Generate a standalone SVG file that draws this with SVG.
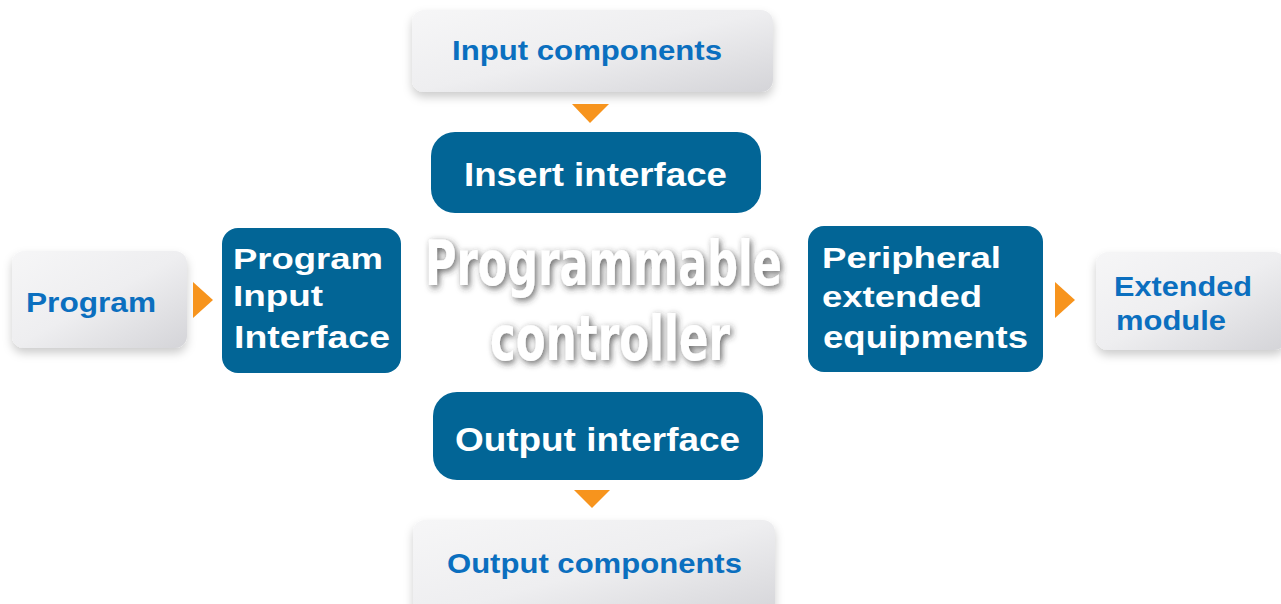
<svg xmlns="http://www.w3.org/2000/svg" width="1281" height="604" viewBox="0 0 1281 604">
  <defs>
    <linearGradient id="grayGrad" x1="0" y1="0" x2="1" y2="1">
      <stop offset="0" stop-color="#f6f6f7"/>
      <stop offset="0.5" stop-color="#eeeef0"/>
      <stop offset="1" stop-color="#d4d4d8"/>
    </linearGradient>
    <filter id="boxShadow" x="-10%" y="-20%" width="120%" height="150%">
      <feDropShadow dx="0" dy="5" stdDeviation="5" flood-color="#000" flood-opacity="0.2"/>
    </filter>
    <filter id="textGlow" x="-10%" y="-20%" width="120%" height="140%">
      <feDropShadow dx="2" dy="2" stdDeviation="3" flood-color="#333" flood-opacity="0.75"/>
    </filter>
    <style>
      .gray { fill: url(#grayGrad); filter: url(#boxShadow); }
      .blue { fill: #026596; }
      .gt { font-family: "Liberation Sans", Arial, sans-serif; font-weight: bold; fill: #0b6fbf; }
      .bt { font-family: "Liberation Sans", Arial, sans-serif; font-weight: bold; fill: #ffffff; }
      .center { font-family: "DejaVu Sans Condensed", "Liberation Sans Narrow", "Liberation Sans", sans-serif; font-weight: bold; fill: #ffffff; filter: url(#textGlow); }
      .arrow { fill: #f7941d; }
    </style>
  </defs>
  <rect width="1281" height="604" fill="#ffffff"/>

  <g id="input-components">
    <rect class="gray" x="412" y="10" width="361" height="82" rx="12"/>
    <text class="gt" x="452" y="60" font-size="28" textLength="270" lengthAdjust="spacingAndGlyphs">Input components</text>
  </g>

  <g id="insert-interface">
    <rect class="blue" x="431" y="132" width="330" height="81" rx="24"/>
    <text class="bt" x="464" y="186" font-size="33" textLength="263" lengthAdjust="spacingAndGlyphs">Insert interface</text>
  </g>

  <g id="program">
    <rect class="gray" x="12" y="251" width="175" height="97" rx="12"/>
    <text class="gt" x="26" y="312" font-size="27" textLength="130" lengthAdjust="spacingAndGlyphs">Program</text>
  </g>

  <g id="program-input-interface">
    <rect class="blue" x="222" y="228" width="179" height="145" rx="16"/>
    <text class="bt" x="233" y="269" font-size="29" textLength="150" lengthAdjust="spacingAndGlyphs">Program</text>
    <text class="bt" x="233" y="306" font-size="29" textLength="90" lengthAdjust="spacingAndGlyphs">Input</text>
    <text class="bt" x="234" y="348" font-size="31" textLength="156" lengthAdjust="spacingAndGlyphs">Interface</text>
  </g>

  <g id="programmable-controller">
    <text class="center" font-size="52" transform="scale(1,1.2)"><tspan x="425" y="237.5" textLength="357" lengthAdjust="spacingAndGlyphs">Programmable</tspan><tspan x="490" y="300" textLength="240" lengthAdjust="spacingAndGlyphs">controller</tspan></text>
  </g>

  <g id="peripheral-extended-equipments">
    <rect class="blue" x="808" y="226" width="235" height="146" rx="16"/>
    <text class="bt" x="822" y="268" font-size="29" textLength="179" lengthAdjust="spacingAndGlyphs">Peripheral</text>
    <text class="bt" x="822" y="307" font-size="29" textLength="160" lengthAdjust="spacingAndGlyphs">extended</text>
    <text class="bt" x="823" y="348" font-size="31" textLength="205" lengthAdjust="spacingAndGlyphs">equipments</text>
  </g>

  <g id="extended-module">
    <rect class="gray" x="1096" y="252" width="190" height="98" rx="12"/>
    <text class="gt" x="1114" y="296" font-size="28" textLength="138" lengthAdjust="spacingAndGlyphs">Extended</text>
    <text class="gt" x="1116" y="330" font-size="28" textLength="110" lengthAdjust="spacingAndGlyphs">module</text>
  </g>

  <g id="output-interface">
    <rect class="blue" x="433" y="392" width="330" height="88" rx="24"/>
    <text class="bt" x="455" y="451" font-size="33" textLength="285" lengthAdjust="spacingAndGlyphs">Output interface</text>
  </g>

  <g id="output-components">
    <rect class="gray" x="413" y="520" width="362" height="100" rx="12"/>
    <text class="gt" x="447" y="573" font-size="28" textLength="295" lengthAdjust="spacingAndGlyphs">Output components</text>
  </g>

  <g id="connectors">
    <polygon class="arrow" points="572,104 609,104 590,123"/>
    <polygon class="arrow" points="574,490 610,490 592,508"/>
    <polygon class="arrow" points="193,282 213,300 193,318"/>
    <polygon class="arrow" points="1055,282 1075,300 1055,318"/>
  </g>
</svg>
